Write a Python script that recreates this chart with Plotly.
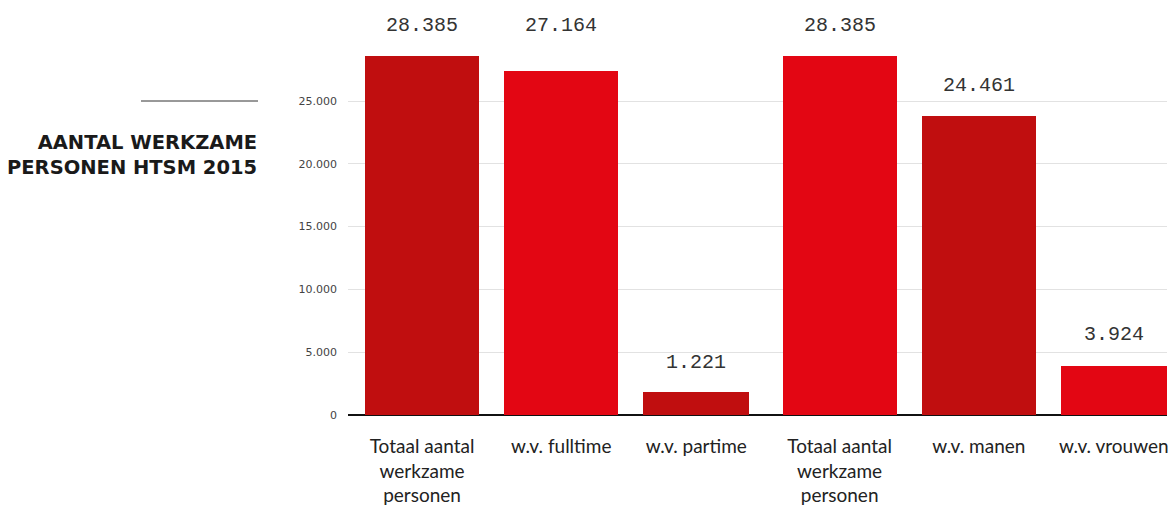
import plotly.graph_objects as go

categories = ["Totaal aantal<br>werkzame<br>personen", "w.v. fulltime", "w.v. partime",
              "Totaal aantal<br>werkzame<br>personen", "w.v. manen", "w.v. vrouwen"]
bar_heights = [28560, 27370, 1800, 28560, 23790, 3940]
value_labels = ["28.385", "27.164", "1.221", "28.385", "24.461", "3.924"]
bar_colors = ["#C00E0F", "#E30613", "#C00E0F", "#E30613", "#C00E0F", "#E30613"]
bar_widths = [0.82, 0.82, 0.76, 0.82, 0.82, 0.76]
label_shifts = [31, 46, 30, 31, 31, 31]
ytick_vals = [0, 5000, 10000, 15000, 20000, 25000]
ytick_text = ["0", "5.000", "10.000", "15.000", "20.000", "25.000"]
title_lines = ["AANTAL WERKZAME", "PERSONEN HTSM 2015"]

xs = list(range(len(categories)))
bar_offset = -0.41
bar_centers = [x + bar_offset + w / 2 for x, w in zip(xs, bar_widths)]

fig = go.Figure()
fig.add_trace(go.Bar(
    x=xs, y=bar_heights,
    marker=dict(color=bar_colors, line=dict(width=0)),
    width=bar_widths, offset=bar_offset,
    hoverinfo="skip",
))

for c, h, t, s in zip(bar_centers, bar_heights, value_labels, label_shifts):
    fig.add_annotation(x=c, y=h, text=t, showarrow=False,
                       yshift=s, yanchor="middle",
                       font=dict(family="Liberation Mono", size=20, color="#333333"))

fig.update_layout(
    width=1172, height=507,
    margin=dict(l=348, r=5, t=10, b=92),
    paper_bgcolor="white", plot_bgcolor="white",
    showlegend=False,
    bargap=0,
    xaxis=dict(
        range=[-0.532, 5.352], tickvals=bar_centers, ticktext=categories,
        showgrid=False, zeroline=False, showline=False, ticks="",
        tickfont=dict(family="Lato", size=19, color="#222222"),
        ticklabelstandoff=18, automargin=False, ticklabeloverflow="allow",
    ),
    yaxis=dict(
        range=[0, 32250], tickvals=ytick_vals, ticktext=ytick_text,
        showgrid=True, gridcolor="#E2E2E2", gridwidth=1,
        zeroline=True, zerolinecolor="#111111", zerolinewidth=1.5,
        showline=False, ticks="",
        tickfont=dict(family="DejaVu Sans", size=11, color="#444444"),
        ticklabelstandoff=10, automargin=False,
    ),
)

fig.add_shape(type="line", xref="paper", yref="paper",
              x0=(141 - 348) / 819, x1=(258 - 348) / 819,
              y0=1 - (101 - 10) / 405, y1=1 - (101 - 10) / 405,
              line=dict(color="#333333", width=1))

fig.add_annotation(xref="paper", yref="paper", x=(259 - 348) / 819, y=1 - (155 - 10) / 405,
                   xanchor="right", yanchor="middle", align="right", showarrow=False,
                   text="<br>".join(f"<b>{l}</b>" for l in title_lines),
                   font=dict(family="DejaVu Sans", size=19.5, color="#1A1A1A"))

fig.write_html("out.html", config={"displayModeBar": False},
               post_script="document.body.style.margin='0';document.body.style.overflow='hidden';")
